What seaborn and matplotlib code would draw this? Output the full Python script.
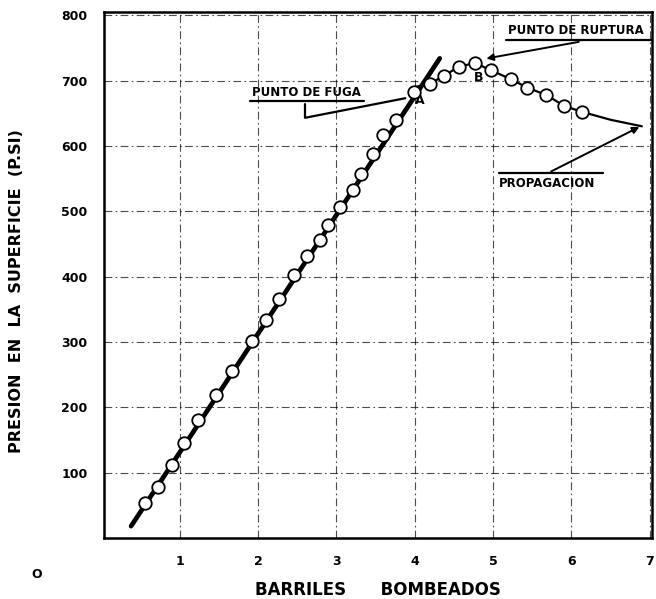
import matplotlib
matplotlib.use("Agg")
import matplotlib.pyplot as plt
import seaborn as sns
import pandas as pd

# ---- data ----
x_linear = [0.56, 0.72, 0.90, 1.06, 1.24, 1.46, 1.67, 1.92, 2.10, 2.27, 2.46,
            2.62, 2.79, 2.90, 3.05, 3.21, 3.32, 3.47, 3.60, 3.76, 3.99]
y_linear = [53, 78, 111, 145, 180, 218, 256, 301, 334, 366, 402,
            431, 456, 479, 507, 533, 557, 588, 617, 640, 682]
x_top = [4.19, 4.37, 4.56, 4.77, 4.97, 5.23, 5.44, 5.68, 5.91, 6.14]
y_top = [695, 707, 721, 727, 716, 702, 689, 678, 661, 652]
fit_x = [0.38, 4.32]
fit_y = [18, 734]
curve_x = [4.0, 4.19, 4.37, 4.56, 4.77, 4.97, 5.23, 5.44, 5.68, 5.91, 6.14, 6.5, 6.9]
curve_y = [690, 695, 707, 721, 727, 716, 702, 689, 678, 661, 652, 640, 630]
x_ticks = [1, 2, 3, 4, 5, 6, 7]
y_ticks = [100, 200, 300, 400, 500, 600, 700, 800]
x_label = "BARRILES      BOMBEADOS"
y_label = "PRESION  EN  LA  SUPERFICIE  (P.SI)"

sns.set_theme(style="white")
plt.rcParams['font.family'] = ['DejaVu Sans']
plt.rcParams['font.weight'] = 'bold'
for k in ['text.color', 'axes.labelcolor', 'xtick.color', 'ytick.color']:
    plt.rcParams[k] = 'black'

fig = plt.figure(figsize=(6.56, 5.99), dpi=100)
ax = fig.add_axes([0.158, 0.102, 0.836, 0.878])

pts = pd.DataFrame({"x": x_linear + x_top, "y": y_linear + y_top})
fit = pd.DataFrame({"x": fit_x, "y": fit_y})
cur = pd.DataFrame({"x": curve_x, "y": curve_y})

sns.lineplot(data=fit, x="x", y="y", ax=ax, color="black", lw=3.4, zorder=3)
sns.lineplot(data=cur, x="x", y="y", ax=ax, color="black", lw=1.6, zorder=3, sort=False)
ax.plot(pts["x"], pts["y"], ls="none", marker="o", ms=9, mfc="white",
        mec="black", mew=1.3, zorder=4)

ax.set_xlim(0.03, 7.03)
ax.set_ylim(0, 805)
ax.set_xticks(x_ticks)
ax.set_yticks(y_ticks)
ax.set_xticklabels([str(t) for t in x_ticks], fontsize=9, fontweight='bold')
ax.set_yticklabels([str(t) for t in y_ticks], fontsize=9, fontweight='bold')
ax.tick_params(axis='both', length=0)
ax.tick_params(axis='x', pad=12)
ax.tick_params(axis='y', pad=11.5)
ax.grid(True, color="black", lw=0.8, linestyle=(0, (7, 3, 1.5, 3)), alpha=0.7)
for s in ax.spines.values():
    s.set_color("black")
    s.set_linewidth(1.8)

ax.set_xlabel(x_label, fontsize=12, fontweight='bold', labelpad=10)
ax.set_ylabel(y_label, fontsize=11.5, fontweight='bold', labelpad=24)
ax.yaxis.set_label_coords(-0.145, 0.47)

ax.text(-0.83, -56, "O", fontsize=9, fontweight='bold', ha='center', va='center',
        clip_on=False)

# annotations
ax.text(5.19, 766, "PUNTO DE RUPTURA", fontsize=8.5, fontweight='bold', ha='left', va='bottom')
ax.plot([5.17, 7.03], [762, 762], color="black", lw=1.6, clip_on=False)
ax.annotate("", xy=(4.88, 733), xytext=(6.13, 760),
            arrowprops=dict(arrowstyle="-|>", color="black", lw=1.4, mutation_scale=10))

ax.text(1.92, 672, "PUNTO DE FUGA", fontsize=8.5, fontweight='bold', ha='left', va='bottom')
ax.plot([1.90, 3.35], [669, 669], color="black", lw=1.6)
ax.plot([2.60, 2.60, 3.88], [664, 643, 673], color="black", lw=1.6)

ax.text(4.06, 669, "A", fontsize=9, fontweight='bold', ha='center', va='center')
ax.text(4.81, 704, "B", fontsize=9, fontweight='bold', ha='center', va='center')

ax.text(5.08, 543, "PROPAGACION", fontsize=8.5, fontweight='bold', ha='left', va='center')
ax.plot([5.08, 6.41], [559, 559], color="black", lw=1.6)
ax.annotate("", xy=(6.90, 631), xytext=(5.71, 559),
            arrowprops=dict(arrowstyle="-|>", color="black", lw=1.4, mutation_scale=10))

fig.savefig("out.png", dpi=100)
